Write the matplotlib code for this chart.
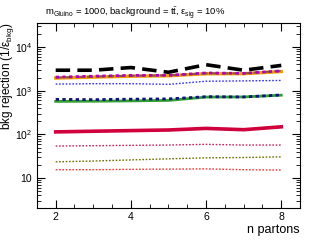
import numpy as np
import matplotlib.pyplot as plt
from matplotlib.ticker import LogLocator, MultipleLocator, NullFormatter

plt.rcParams['font.family'] = ['Liberation Sans', 'DejaVu Sans']
plt.rcParams['mathtext.fontset'] = 'custom'
plt.rcParams['mathtext.rm'] = 'Liberation Sans'
plt.rcParams['mathtext.it'] = 'Liberation Sans'

n_partons = [2, 3, 4, 5, 6, 7, 8]

rej_black = [2950, 2950, 3400, 2650, 3950, 2950, 3800]
rej_orange = [1950, 2050, 2150, 2200, 2450, 2450, 2750]
rej_brown = [2000, 2100, 2200, 2250, 2500, 2500, 2850]
rej_purple = [2050, 2150, 2250, 2250, 2550, 2500, 2850]
rej_blue = [1420, 1450, 1450, 1400, 1650, 1680, 1720]
rej_green = [570, 575, 585, 600, 715, 720, 790]
rej_navy = [635, 625, 640, 650, 730, 720, 800]
rej_crimson = [114, 118, 122, 126, 137, 128, 149]
rej_pink = [54, 55, 56, 57, 59, 57, 57]
rej_olive = [23.5, 24.5, 26, 27.5, 29, 29.5, 30.5]
rej_red = [15.5, 15.5, 15.8, 16, 16.2, 15.5, 15.2]

fig = plt.figure(figsize=(3.1, 2.4), dpi=100)
ax = fig.add_axes([0.119, 0.135, 0.849, 0.770])

ax.plot(n_partons, rej_black, color='black', lw=2.6, dashes=(4, 2))
ax.plot(n_partons, rej_orange, color='#f0a000', lw=2.4)
ax.plot(n_partons, rej_brown, color='#8b5a2b', lw=1.5, dashes=(3, 2))
ax.plot(n_partons, rej_purple, color='#b000c8', lw=2.0, dashes=(1.2, 1.2))
ax.plot(n_partons, rej_blue, color='#3030ff', lw=1.0, dashes=(1.2, 1.2))
ax.plot(n_partons, rej_green, color='#30a030', lw=2.0)
ax.plot(n_partons, rej_navy, color='#101080', lw=2.0, dashes=(1.2, 1.2))
ax.plot(n_partons, rej_crimson, color='#d0003c', lw=2.6)
ax.plot(n_partons, rej_pink, color='#d0205a', lw=1.0, dashes=(1.2, 1.2))
ax.plot(n_partons, rej_olive, color='#707000', lw=1.0, dashes=(1.2, 1.2))
ax.plot(n_partons, rej_red, color='#ff3030', lw=1.0, dashes=(1.2, 1.2))

ax.set_yscale('log')
ax.set_xlim(1.5, 8.5)
ax.set_ylim(2.1, 36000)
ax.set_xticks([2, 4, 6, 8])
ax.xaxis.set_minor_locator(MultipleLocator(0.5))
ax.yaxis.set_minor_locator(LogLocator(base=10, subs=np.arange(2, 10), numticks=20))
ax.yaxis.set_minor_formatter(NullFormatter())
ax.set_yticks([10, 100, 1000, 10000])
ax.set_yticklabels(['10', r'$10^{2}$', r'$10^{3}$', r'$10^{4}$'])

ax.tick_params(which='both', direction='in', top=True, right=True, labelsize=7.5)
ax.tick_params(which='major', length=6, width=0.8)
ax.tick_params(which='minor', length=3, width=0.6)
for s in ax.spines.values():
    s.set_linewidth(0.8)

ax.set_ylabel(r'bkg rejection (1/$\varepsilon_{\rm bkg}$)', fontsize=8.5, loc='top')
ax.yaxis.set_label_coords(-0.08, 1.0)
ax.set_xlabel('n partons', fontsize=9, loc='right', labelpad=1)

fig.text(0.145, 0.945, r'm$_{\rm Gluino}$ = 1000, background = t$\bar{\rm t}$, $\varepsilon_{\rm sig}$ = 10%',
         fontsize=6.8, va='center')

fig.savefig('out.png', dpi=100)
